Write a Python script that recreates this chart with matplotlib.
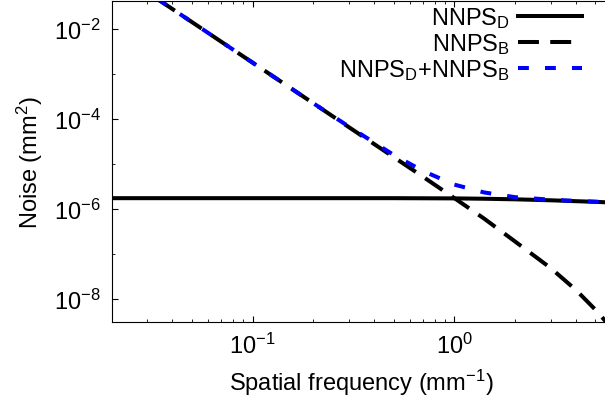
import matplotlib
matplotlib.use('Agg')
import matplotlib.pyplot as plt

plt.rcParams['font.family'] = ['Liberation Sans', 'DejaVu Sans']
plt.rcParams['mathtext.fontset'] = 'custom'
plt.rcParams['mathtext.rm'] = 'Liberation Sans'
plt.rcParams['mathtext.it'] = 'Liberation Sans:italic'
plt.rcParams['mathtext.bf'] = 'Liberation Sans:bold'

# Values
freq = [0.02, 0.03, 0.05, 0.07, 0.1, 0.15, 0.2, 0.3, 0.5, 0.7,
        1.0, 1.4, 2.0, 3.0, 4.0, 5.0, 6.0]
nnps_d = [1.75e-6, 1.75e-6, 1.75e-6, 1.75e-6, 1.75e-6, 1.75e-6, 1.75e-6, 1.75e-6, 1.75e-6, 1.74e-6,
          1.73e-6, 1.7e-6, 1.65e-6, 1.57e-6, 1.5e-6, 1.45e-6, 1.4e-6]
nnps_b = [0.223, 0.066, 1.43e-2, 5.2e-3, 1.79e-3, 5.3e-4, 2.24e-4, 6.6e-5, 1.43e-5, 5.2e-6,
          1.75e-6, 6.2e-7, 1.9e-7, 4.9e-8, 1.6e-8, 5.8e-9, 2.3e-9]
nnps_sum = [0.223, 0.066, 1.43e-2, 5.2e-3, 1.79e-3, 5.3e-4, 2.24e-4, 6.8e-5, 1.6e-5, 7.0e-6,
            3.5e-6, 2.35e-6, 1.84e-6, 1.62e-6, 1.52e-6, 1.46e-6, 1.4e-6]

y_major = [1e-8, 1e-6, 1e-4, 1e-2]
y_minor = [1e-7, 1e-5, 1e-3]

fig = plt.figure(figsize=(6.05, 4.06), dpi=100)
ax = fig.add_axes([0.1846, 0.2044, 0.826, 0.7906])

ax.plot(freq, nnps_d, color='black', lw=2.9, label=r'NNPS$_\mathregular{D}$')
ax.plot(freq, nnps_b, color='black', lw=2.9, dashes=(5.2, 2.8), label=r'NNPS$_\mathregular{B}$')
ax.plot(freq, nnps_sum, color='blue', lw=2.9, dashes=(2.7, 4.0),
        label=r'NNPS$_\mathregular{D}$+NNPS$_\mathregular{B}$')

ax.set_xscale('log')
ax.set_yscale('log')
ax.set_yticks(y_major)
ax.set_yticks(y_minor, minor=True)
ax.yaxis.set_minor_formatter(matplotlib.ticker.NullFormatter())
ax.set_xlim(0.02, 6)
ax.set_ylim(3.1e-9, 0.042)

ax.tick_params(which='both', direction='in', top=True, right=True, labelsize=17, pad=8)
ax.tick_params(which='major', length=4.5)
ax.tick_params(which='minor', length=2)

ax.set_xlabel('Spatial frequency (mm$^{-1}$)', fontsize=17, labelpad=6)
ax.set_ylabel('Noise (mm$^{2}$)', fontsize=17, labelpad=6)

ax.legend(loc='upper right', bbox_to_anchor=(584 / 605, 0.99), bbox_transform=fig.transFigure,
          frameon=False, markerfirst=False, fontsize=17, handlelength=2.7,
          handletextpad=0.35, labelspacing=0.05, borderaxespad=0.0, borderpad=0.1)

plt.savefig('out.png', dpi=100)
